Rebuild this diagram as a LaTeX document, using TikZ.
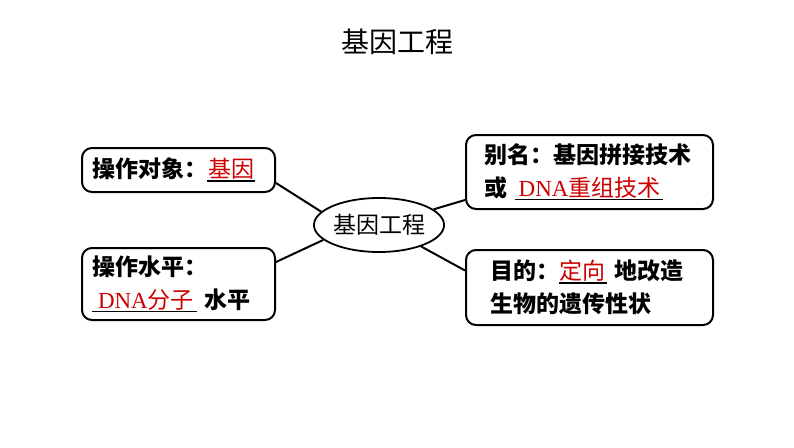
\documentclass[tikz,border=0pt]{standalone}
\usepackage{fontspec}
\setmainfont{Noto Sans CJK SC}
\newfontfamily\dnafont{Liberation Serif}
\usepackage{xcolor}
\usetikzlibrary{shapes.geometric,positioning}
\definecolor{ansred}{RGB}{204,0,0}

% red answer on a black blank line: #1 left pad, #2 answer, #3 right pad
\newsavebox{\blankbox}
\newcommand{\fillin}[3]{%
  \sbox{\blankbox}{\hspace{#1}\textcolor{ansred}{\mdseries #2}\hspace{#3}}%
  \leavevmode\rlap{\rule[-4pt]{\wd\blankbox}{1.6pt}}\usebox{\blankbox}}

\begin{document}
\begin{tikzpicture}[
			x=1pt,y=-1pt,
			thick,
			box/.style={
				draw=black,
				line width=2pt,
				rectangle,
				rounded corners=10pt,
				align=left,
				inner ysep=0pt,
				font=\fontsize{23}{33}\selectfont\bfseries
			},
			hub/.style={
				draw=black,
				line width=1.8pt,
				ellipse,
				inner sep=0pt,
				minimum width=122pt,
				minimum height=54pt,
				font=\fontsize{23}{26}\selectfont
			},
			link/.style={line width=2pt}
			]
			\useasboundingbox (0,0) rectangle (794,447);
			% title
			\node[font=\fontsize{28}{32}\selectfont] (title) at (397,42) {基因工程};
			% centre
			\node[hub] (gene) at (379,225) {基因工程};
			% left boxes
			\node[box, minimum width=193pt, minimum height=44pt, inner xsep=10pt, text width=173pt] (obj) at (178.5,170)
				{操作对象：\fillin{1pt}{基因}{1pt}};
			\node[box, minimum width=193pt, minimum height=72pt, inner xsep=10pt, text width=173pt] (lvl) at (178.5,284)
				{操作水平：\\\fillin{6pt}{{\dnafont DNA}分子}{3pt} 水平};
			% right boxes
			\node[box, minimum width=247pt, minimum height=74pt, inner xsep=18pt, text width=211pt] (alias) at (589.5,172)
				{别名：基因拼接技术\\或 \fillin{4pt}{{\dnafont DNA}重组技术}{2pt}};
			\node[box, minimum width=247pt, minimum height=75pt, inner xsep=24pt, text width=199pt] (aim) at (589.5,287.5)
				{目的：\fillin{0pt}{定向}{2pt} 地改造\\生物的遗传性状};
			% links
			\draw[link] ([yshift=-13pt]obj.east) -- (gene.167);
			\draw[link] ([yshift=22pt]lvl.east) -- (gene.195);
			\draw[link] ([yshift=-28pt]alias.west) -- (gene.16);
			\draw[link] ([yshift=17pt]aim.west) -- (gene.-27);
		\end{tikzpicture}
\end{document}
